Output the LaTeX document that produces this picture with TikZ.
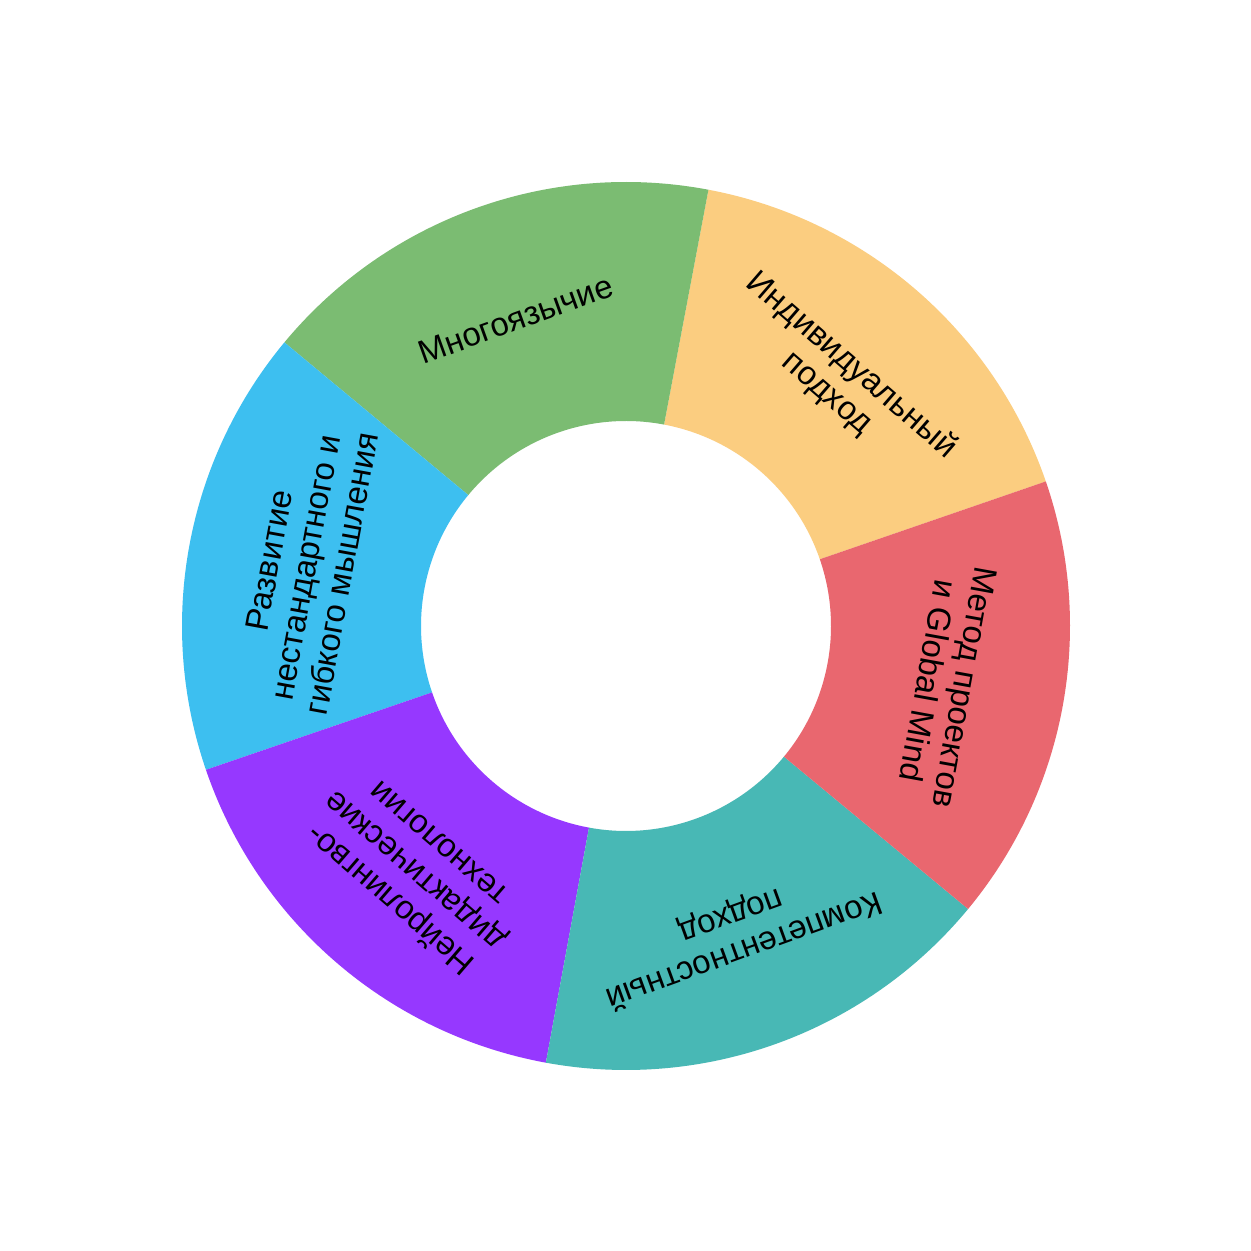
\documentclass[tikz,border=0pt]{standalone}
\usepackage{fontspec}
\setmainfont{Liberation Sans}
\usetikzlibrary{calc}
\definecolor{cgreen}{HTML}{7BBC72}
\definecolor{cyellow}{HTML}{FBCD80}
\definecolor{cred}{HTML}{E9676F}
\definecolor{cteal}{HTML}{48B8B5}
\definecolor{cpurple}{HTML}{9638FF}
\definecolor{cblue}{HTML}{3DBFF0}
\newcommand\donutseg[3]{%
  \fill[#3] ($(c)+(#1:444)$) arc[start angle=#1,end angle=#2,radius=444]
    -- ($(c)+(#2:205)$) arc[start angle=#2,end angle=#1,radius=205] -- cycle;}
\begin{document}
\begin{tikzpicture}[x=1pt,y=1pt,
  lbl/.style={align=center,font=\fontsize{33}{37}\selectfont,text=black,inner sep=0pt}]
\useasboundingbox[fill=white] (0,0) rectangle (1251,1251);
\coordinate (c) at (626,625);
\donutseg{19}{79.3}{cyellow}
\donutseg{79.3}{140.3}{cgreen}
\donutseg{140.3}{198.9}{cblue}
\donutseg{198.9}{259.6}{cpurple}
\donutseg{259.6}{320.4}{cteal}
\donutseg{320.4}{379}{cred}
\node[lbl,rotate=-40.85] (l1) at ($(c)+(49.15:326)$) {Индивидуальный\\подход};
\node[lbl,rotate=19.8] (l2) at ($(c)+(109.8:326)$) {Многоязычие};
\node[lbl,rotate=79.6] (l3) at ($(c)+(169.6:326)$) {Развитие\\нестандартного и\\гибкого мышления};
\node[lbl,rotate=139.25] (l4) at ($(c)+(229.25:326)$) {Нейролингво-\\дидактические\\технологии};
\node[lbl,rotate=200] (l5) at ($(c)+(290:326)$) {Компетентностный\\подход};
\node[lbl,rotate=-100.3] (l6) at ($(c)+(-10.3:326)$) {Метод проектов\\и Global Mind};
\end{tikzpicture}
\end{document}
